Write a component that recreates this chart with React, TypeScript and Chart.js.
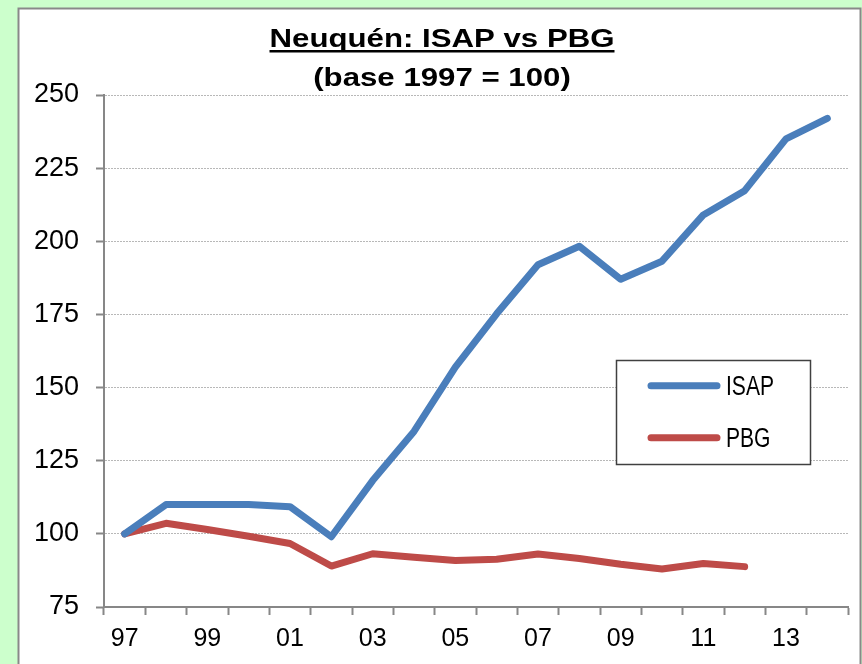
import React, { useEffect, useRef } from "react";
import { Chart, registerables } from "chart.js";

Chart.register(...registerables);

const years = ["97", "98", "99", "00", "01", "02", "03", "04", "05", "06", "07", "08", "09", "10", "11", "12", "13", "14"];
const isap = [100, 110, 110, 110, 109.3, 99, 118.2, 135, 157, 175.2, 192, 198.3, 187, 193.2, 209, 217.3, 235, 242];
const pbg = [100, 103.6, 101.5, 99.2, 96.7, 89, 93.2, 92, 90.9, 91.3, 93.1, 91.6, 89.6, 88, 89.9, 88.8];
const yTicks = { min: 75, max: 250, step: 25 };
const titleLines = ["Neuquén: ISAP vs PBG", "(base 1997 = 100)"];

const BLUE = "#4A7EBB";
const RED = "#BE4B48";
const AXIS = "#878787";
const FONT = "'Liberation Sans', Arial, sans-serif";

const framePlugin = {
  id: "frame",
  beforeDraw(chart: any) {
    const ctx = chart.ctx;
    ctx.save();
    ctx.fillStyle = "#CCFFCC";
    ctx.fillRect(0, 0, chart.width, chart.height);
    ctx.fillStyle = "#ffffff";
    ctx.fillRect(18.5, 8.5, 842, 700);
    ctx.strokeStyle = "#898989";
    ctx.lineWidth = 2;
    ctx.strokeRect(18.5, 8.5, 842, 700);
    ctx.restore();
  },
  afterDraw(chart: any) {
    const ctx = chart.ctx;
    const cx = 442;
    ctx.save();
    ctx.fillStyle = "#000";
    ctx.textAlign = "center";
    ctx.textBaseline = "alphabetic";
    ctx.font = `bold 26px ${FONT}`;
    const sx = 1.2;
    const baselines = [47, 86];
    titleLines.forEach((t, i) => {
      ctx.save();
      ctx.translate(cx, baselines[i]);
      ctx.scale(sx, 1);
      ctx.fillText(t, 0, 0);
      ctx.restore();
      if (i === 0) {
        const w = ctx.measureText(t).width * sx;
        ctx.fillRect(cx - w / 2, 50, w, 2.5);
      }
    });

    // legend
    const bx = 616.5, by = 360.5, bw = 194, bh = 104;
    ctx.fillStyle = "#fff";
    ctx.fillRect(bx, by, bw, bh);
    ctx.strokeStyle = "#404040";
    ctx.lineWidth = 1.5;
    ctx.strokeRect(bx, by, bw, bh);
    const rows = [385.7, 437.7];
    chart.data.datasets.forEach((ds: any, i: number) => {
      const y = rows[i];
      ctx.strokeStyle = ds.borderColor;
      ctx.lineWidth = 7;
      ctx.lineCap = "round";
      ctx.beginPath();
      ctx.moveTo(651, y);
      ctx.lineTo(717, y);
      ctx.stroke();
      ctx.fillStyle = "#000";
      ctx.font = `27px ${FONT}`;
      ctx.textAlign = "left";
      ctx.textBaseline = "alphabetic";
      ctx.save();
      ctx.translate(726, y + 9.5);
      ctx.scale(0.78, 1);
      ctx.fillText(ds.label, 0, 0);
      ctx.restore();
    });
    ctx.restore();
  },
};

export default function App() {
  const ref = useRef<HTMLCanvasElement>(null);
  useEffect(() => {
    document.body.style.margin = "0";
    const chart = new Chart(ref.current as HTMLCanvasElement, {
      type: "line",
      data: {
        labels: years,
        datasets: [
          {
            label: "ISAP",
            data: isap,
            borderColor: BLUE,
            backgroundColor: BLUE,
            borderWidth: 7,
            pointRadius: 0,
            tension: 0,
            borderCapStyle: "round",
            borderJoinStyle: "round",
          },
          {
            label: "PBG",
            data: pbg,
            borderColor: RED,
            backgroundColor: RED,
            borderWidth: 7,
            pointRadius: 0,
            tension: 0,
            borderCapStyle: "round",
            borderJoinStyle: "round",
          },
        ],
      },
      options: {
        animation: false,
        responsive: false,
        events: [],
        layout: { padding: { left: 0, top: 95, right: 14, bottom: 0 } },
        plugins: { legend: { display: false }, title: { display: false }, tooltip: { enabled: false } },
        scales: {
          x: {
            type: "category",
            offset: true,
            grid: {
              display: true,
              offset: true,
              drawOnChartArea: false,
              drawTicks: true,
              tickLength: 8,
              tickColor: AXIS,
              tickWidth: 2,
              color: AXIS,
            },
            border: { display: true, color: AXIS, width: 2 },
            ticks: {
              autoSkip: false,
              maxRotation: 0,
              minRotation: 0,
              padding: 9,
              color: "#000",
              font: { family: FONT, size: 25 },
              callback: (_v: any, i: number) => (i % 2 === 0 ? years[i] : ""),
            },
            afterFit: (s: any) => {
              s.height = 57;
            },
          },
          y: {
            min: yTicks.min,
            max: yTicks.max,
            grid: {
              display: true,
              drawOnChartArea: true,
              drawTicks: true,
              tickLength: 8,
              color: "#b8b8b8",
              lineWidth: 1,
              tickColor: AXIS,
              tickWidth: 2,
              tickBorderDash: [],
            },
            border: { display: true, color: AXIS, width: 2, dash: [2, 1] },
            ticks: {
              stepSize: yTicks.step,
              padding: 17,
              color: "#000",
              font: { family: FONT, size: 27 },
            },
            afterFit: (s: any) => {
              s.width = 104;
            },
          },
        },
      },
      plugins: [framePlugin],
    } as any);
    return () => chart.destroy();
  }, []);
  return (
    <div style={{ position: "absolute", left: 0, top: 0, width: 862, height: 664 }}>
      <canvas ref={ref} width={862} height={664} />
    </div>
  );
}
